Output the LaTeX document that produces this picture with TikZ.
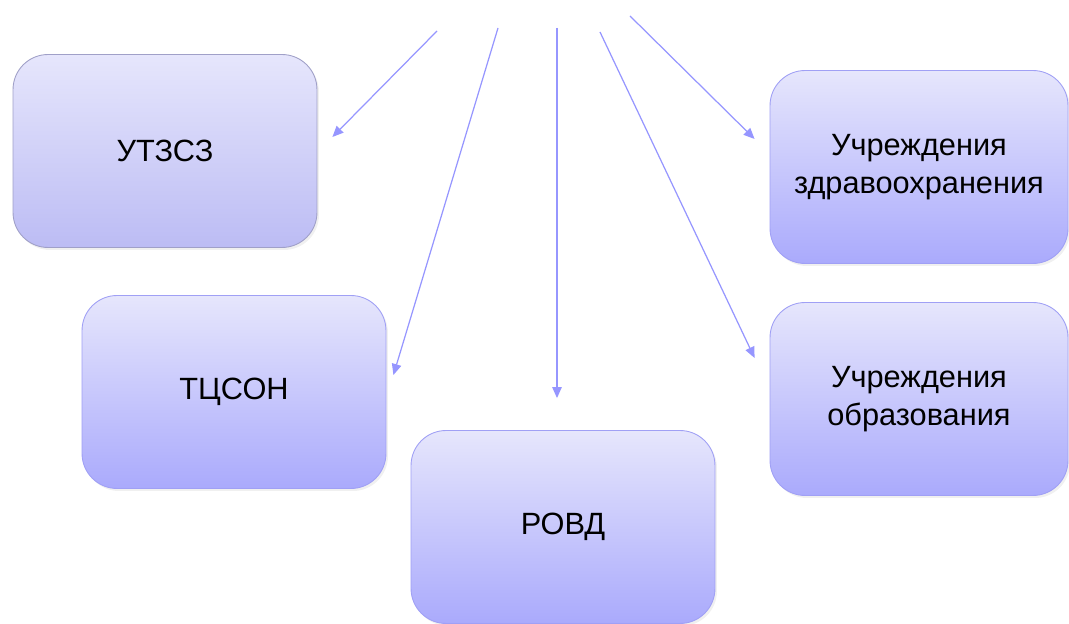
\documentclass[tikz,border=0pt]{standalone}
\usepackage{fontspec}
\setmainfont{Liberation Sans}
\usetikzlibrary{arrows.meta,shadows}

\definecolor{boxtop}{RGB}{230,230,252}
\definecolor{boxbottom}{RGB}{170,170,252}
\definecolor{boxline}{RGB}{160,160,245}
\definecolor{linkblue}{RGB}{150,150,255}

\begin{document}
\begin{tikzpicture}[x=0.02cm,y=-0.02cm,
  box/.style={rounded corners=0.7cm,draw=boxline,line width=0.5pt,top color=boxtop,bottom color=boxbottom,
    minimum width=6.08cm,minimum height=3.86cm,align=center,font=\fontsize{17.5}{21.5}\selectfont,
    drop shadow={opacity=0.12,shadow xshift=0.04cm,shadow yshift=-0.05cm}},
  greybox/.style={box,draw={rgb,255:red,160;green,160;blue,200},bottom color={rgb,255:red,188;green,188;blue,244}},
  link/.style={draw=linkblue,line width=0.7pt,-{Triangle[length=0.22cm,width=0.19cm]}}]

  \useasboundingbox (0,0) rectangle (1069,624);

  \node[greybox] (utszs) at (165,151) {УТЗСЗ};
  \node[box] (tcson) at (234,392) {ТЦСОН};
  \node[box] (rovd) at (563,527) {РОВД};
  \node[box,minimum width=5.96cm] (health) at (919,167) {Учреждения\\здравоохранения};
  \node[box,minimum width=5.96cm] (school) at (919,399) {Учреждения\\образования};

  % free ends at the top
  \coordinate (s1) at (437,31);
  \coordinate (s2) at (498,28);
  \coordinate (s3) at (557,28);
  \coordinate (s4) at (600,32);
  \coordinate (s5) at (630,16);
  % arrow tips, a bit off the boxes
  \coordinate (t1) at ([shift={(15,-14)}]utszs.east);
  \coordinate (t2) at ([shift={(7,-17)}]tcson.east);
  \coordinate (t3) at ([shift={(-6,-32)}]rovd.north);
  \coordinate (t4) at ([shift={(-15,-41)}]school.west);
  \coordinate (t5) at ([shift={(-15,-28)}]health.west);

  \foreach \s/\t in {s1/t1,s2/t2,s3/t3,s4/t4,s5/t5}
    \draw[link] (\s) -- (\t);

\end{tikzpicture}
\end{document}
